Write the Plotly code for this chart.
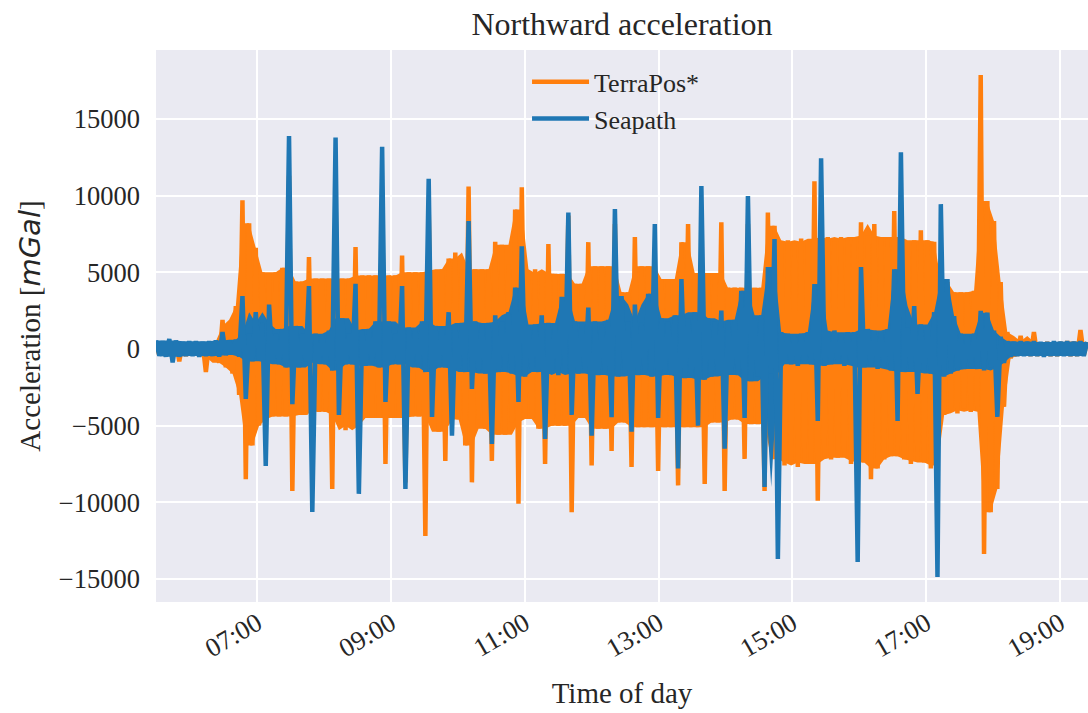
import numpy as np
import pandas as pd
import plotly.graph_objects as go

# --- data ------------------------------------------------------------------
# Dense oscillating accelerations: successive samples alternate between the
# upper and lower edge of the recorded signal band (mGal).
start_time = "2018-06-01 05:29:00"
sample_step = "179s"

terrapos = [
    400, -400, 350, -450, 400, -400, 450, -800, 400, -450,
    350, -400, 450, -450, 400, -1500, 450, -500, 500, -900,
    1900, -1200, 1500, -1600, 2800, -3000, 9700, -8500, 8200, -6300,
    6600, -5000, 5000, -4600, 4900, -4400, 5000, -4400, 5300, -4400,
    11300, -9260, 4400, -4300, 4400, -4300, 6000, -4100, 4600, -4100,
    4600, -4100, 4600, -9130, 9800, -4300, 4600, -5300, 4600, -5000,
    6650, -7170, 4800, -4500, 4800, -4500, 4800, -4500, 9600, -7500,
    4800, -4500, 4800, -4500, 6100, -8700, 5000, -4400, 5000, -4400,
    5000, -12200, 9100, -4400, 5100, -5400, 5200, -7300, 5900, -4600,
    6300, -4600, 5200, -6300, 10600, -8700, 5200, -4600, 5200, -5200,
    5200, -7300, 7000, -5600, 6800, -5600, 5500, -4800, 9100, -10100,
    10550, -4560, 4950, -4560, 5200, -5200, 4950, -7500, 6850, -5000,
    4900, -5000, 4900, -5000, 8700, -10650, 4250, -4500, 4250, -4500,
    6970, -7600, 5400, -5200, 5400, -5200, 5400, -6650, 8150, -4800,
    3700, -4800, 3700, -7700, 7300, -5100, 5400, -5100, 5400, -5100,
    5400, -7950, 4560, -5100, 4560, -5100, 4560, -8900, 6970, -5100,
    8150, -5100, 4950, -5100, 4950, -8800, 4950, -4800, 4950, -4800,
    8260, -9260, 4000, -4600, 4000, -4600, 4000, -7170, 8150, -4900,
    4000, -4900, 4000, -9260, 8900, -4900, 8040, -7200, 7000, -7600,
    7100, -7400, 7000, -7700, 7200, -7300, 7000, -7500, 10950, -9900,
    7200, -7000, 7300, -7200, 7000, -7100, 7300, -7000, 7200, -7500,
    7300, -7300, 8260, -7400, 7400, -8500, 8150, -7800, 7300, -7200,
    7200, -7000, 9000, -7000, 7300, -7200, 7000, -7500, 7100, -7300,
    7750, -7400, 7100, -7800, 7000, -7600, 4500, -4300, 4370, -4000,
    3700, -4200, 3700, -3900, 3700, -4100, 3800, -4000, 17870, -13370,
    9650, -10650, 8350, -9130, 4370, -3780, 1100, -600, 500, -450,
    850, -400, 450, -450, 1100, -450, 400, -400, 450, -450,
    400, -450, 450, -400, 500, -450, 400, -450, 1240, -400,
    450,
]

seapath = [
    550, -450, 500, -500, 650, -870, 550, -500, 450, -450,
    500, -450, 500, -500, 450, -450, 500, -450, 550, -500,
    1100, -400, 500, -300, 600, -500, 3450, -3260, 1000, -800,
    2400, -700, 1700, -7630, 2900, -900, 1000, -1000, 1300, -1200,
    13900, -3600, 1500, -1200, 1000, -800, 4100, -10630, 1000, -900,
    900, -1000, 1200, -1400, 13800, -4300, 2000, -1000, 1000, -1000,
    4250, -9450, 1200, -1100, 1300, -1000, 1800, -1200, 13200, -3460,
    1800, -1000, 1000, -1000, 4100, -9130, 1400, -900, 1300, -1200,
    1800, -1500, 11100, -4430, 1500, -1200, 1400, -1200, 2400, -5650,
    1500, -1300, 1700, -1500, 8350, -2600, 1800, -1500, 1600, -1600,
    1700, -6200, 2200, -1500, 1800, -1400, 2400, -1600, 4000, -3450,
    6700, -1800, 1500, -1300, 1600, -1500, 2200, -5870, 1700, -1500,
    1600, -1700, 3400, -1500, 8900, -4300, 1800, -1600, 1700, -1500,
    2700, -5650, 1800, -1700, 1600, -1500, 1900, -4450, 9130, -1800,
    3450, -1600, 1800, -5400, 2900, -1700, 1700, -1500, 3600, -1800,
    8150, -4500, 2000, -1600, 1800, -1700, 2200, -7800, 4560, -1900,
    2000, -1700, 2400, -5000, 10630, -2000, 2000, -1800, 1800, -1700,
    2500, -6500, 1800, -1600, 1900, -1700, 3800, -4500, 9980, -2100,
    2000, -1800, 2200, -9000, 5350, -1600, 7170, -13700, 1100, -900,
    1000, -1000, 900, -1100, 1000, -900, 1100, -1000, 4240, -4700,
    12450, -1100, 1100, -1000, 1200, -900, 1000, -1100, 1100, -1000,
    1100, -13900, 5350, -1200, 1300, -1100, 1200, -1300, 1100, -1200,
    1300, -1400, 5200, -4700, 12840, -1500, 1400, -1300, 2800, -2930,
    1600, -1500, 1500, -1600, 2400, -14870, 9450, -1800, 4560, -1600,
    2150, -1400, 1000, -1300, 900, -1200, 1000, -1300, 2480, -1400,
    2370, -1200, 1200, -4430, 800, -900, 500, -500, 450, -450,
    500, -450, 450, -450, 500, -450, 450, -500, 450, -450,
    500, -450, 450, -450, 500, -450, 450, -450, 500, -450,
    450,
]

series_names = ["TerraPos*", "Seapath"]
series_colors = ["#ff7f0e", "#1f77b4"]

y_tick_values = [-15000, -10000, -5000, 0, 5000, 10000, 15000]
y_tick_labels = ["\u221215000", "\u221210000", "\u22125000", "0", "5000", "10000", "15000"]
x_tick_values = ["2018-06-01 07:00", "2018-06-01 09:00", "2018-06-01 11:00",
                 "2018-06-01 13:00", "2018-06-01 15:00", "2018-06-01 17:00",
                 "2018-06-01 19:00"]
x_range = ["2018-06-01 05:29:00", "2018-06-01 19:25:07"]
y_range = [-16507, 19507]

# --- figure -----------------------------------------------------------------
times = pd.date_range(start_time, periods=len(terrapos), freq=sample_step)


def median3(a):
    """Running median of three: the dense part of the band without spikes."""
    p = np.concatenate([[a[0]], a, [a[-1]]])
    return np.median(np.stack([p[:-2], p[1:-1], p[2:]]), axis=0)


fig = go.Figure()
for name, values, color in zip(series_names, [terrapos, seapath], series_colors):
    v = np.asarray(values, dtype=float)
    tops_t, tops_v = times[0::2], median3(v[0::2])
    bots_t, bots_v = times[1::2], median3(v[1::2])
    # solid body of the densely oscillating signal
    fig.add_trace(go.Scatter(
        x=list(tops_t) + list(bots_t[::-1]),
        y=list(tops_v) + list(bots_v[::-1]),
        mode="lines", fill="toself", fillcolor=color,
        line=dict(width=0, color=color), showlegend=False, hoverinfo="skip"))
    # the signal itself
    fig.add_trace(go.Scatter(x=times, y=values, mode="lines", name=name,
                             line=dict(color=color, width=4.5, simplify=False)))

text_color = "#262626"
serif = "Liberation Serif"

fig.update_layout(
    width=1088, height=713,
    margin=dict(l=156, r=0, t=50, b=111),
    paper_bgcolor="white", plot_bgcolor="#EAEAF2",
    font=dict(family=serif, size=26.5, color=text_color),
    title=dict(text="Northward acceleration", x=0.5, xanchor="center",
               xref="paper", y=0.966, yanchor="middle", yref="container",
               font=dict(size=32, family=serif, color=text_color)),
    showlegend=True,
    legend=dict(x=0.4936, xanchor="center", y=0.985, yanchor="top",
                bgcolor="rgba(0,0,0,0)", font=dict(size=26, family=serif),
                itemwidth=57),
    xaxis=dict(type="date", range=x_range, tickvals=x_tick_values,
               tickformat="%H:%M", tickangle=-30, showgrid=True,
               gridcolor="white", gridwidth=2, zeroline=False, ticks="",
               showline=False,
               title=dict(text="Time of day", font=dict(size=29), standoff=20)),
    yaxis=dict(range=y_range, tickvals=y_tick_values, ticktext=y_tick_labels,
               showgrid=True, gridcolor="white", gridwidth=2, zeroline=False,
               ticks="", showline=False, ticklabelstandoff=15,
               title=dict(text="Acceleration [<i><span style='font-family:DejaVu Sans'>mGal</span></i>]",
                          font=dict(size=29), standoff=9)),
)

fig.write_html("out.html")
